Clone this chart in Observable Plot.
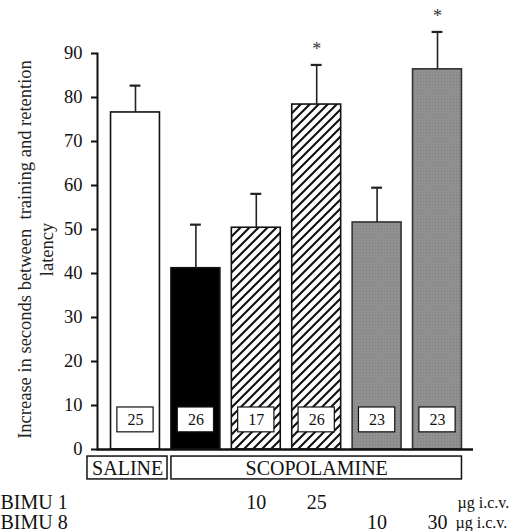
<!DOCTYPE html>
<html><head><meta charset="utf-8">
<script src="https://cdn.jsdelivr.net/npm/d3@7"></script>
<script src="https://cdn.jsdelivr.net/npm/@observablehq/plot@0.6"></script>
<style>body{margin:0;background:#fff} svg{display:block;overflow:visible}</style>
</head><body><div id="chart"></div>
<script>
// ---- data ----
const groups = ["Saline", "Scopolamine", "Scop + BIMU 1 10", "Scop + BIMU 1 25", "Scop + BIMU 8 10", "Scop + BIMU 8 30"];
const means = [76.6, 41.2, 50.4, 78.4, 51.6, 86.4];
const errors = [6.1, 9.9, 7.7, 9.0, 7.9, 8.5];
const nAnimals = [25, 26, 17, 26, 23, 23];
const significant = [false, false, false, true, false, true];
const kinds = ["saline", "scop", "bimu1", "bimu1", "bimu8", "bimu8"];
const bimu1Doses = ["", "", "10", "25", "", ""];
const bimu8Doses = ["", "", "", "", "10", "30"];
const yTicks = [0, 10, 20, 30, 40, 50, 60, 70, 80, 90];
const treatments = ["SALINE", "SCOPOLAMINE"];
const treatmentSpan = [[0, 0], [1, 5]];
const rowLabels = ["BIMU 1", "BIMU 8"];
const unitLabel = "µg i.c.v.";
const yTitle = "Increase in seconds between  training and retention\nlatency";

// ---- styling ----
const fillFor = {saline: "white", scop: "black", bimu1: "url(#hatch)", bimu8: "url(#stipple)"};
const strokeFor = {saline: "#111", scop: "#111", bimu1: "#111", bimu8: "#333"};
const font = "'Liberation Serif', 'Times New Roman', serif";
const half = 0.405; // half bar width in x units
const capHalf = 0.09;

const data = groups.map((g, i) => ({
  g, i, mean: means[i], top: means[i] + errors[i], n: nAnimals[i],
  sig: significant[i], kind: kinds[i], b1: bimu1Doses[i], b8: bimu8Doses[i]
}));
const spans = treatments.map((t, j) => ({
  t, a: treatmentSpan[j][0], b: treatmentSpan[j][1], j
}));
const rows = rowLabels.map((r, k) => ({r, k}));
const T = {fontFamily: font, fill: "#111"};

const plot = Plot.plot({
  width: 519,
  height: 531,
  marginLeft: 97,
  marginRight: 46,
  marginTop: 53,
  marginBottom: 82,
  style: {fontFamily: font, background: "white", color: "#111"},
  x: {type: "linear", domain: [-0.629, 5.596], axis: null},
  y: {domain: [0, 90], axis: null},
  color: {type: "identity"},
  marks: [
    // bars
    Plot.rect(data, {
      x1: d => d.i - half, x2: d => d.i + half, y1: 0, y2: "mean",
      fill: d => fillFor[d.kind], stroke: d => strokeFor[d.kind], strokeWidth: 1.6
    }),
    // error bars (upper only)
    Plot.ruleX(data, {x: "i", y1: "mean", y2: "top", stroke: "#222", strokeWidth: 1.6}),
    Plot.ruleY(data, {x1: d => d.i - capHalf, x2: d => d.i + capHalf, y: "top", stroke: "#222", strokeWidth: 2.2}),
    // significance stars
    Plot.text(data.filter(d => d.sig), {
      ...T, x: "i", y: "top", text: () => "*", dy: -16, fontSize: 18, fill: "#333"
    }),
    // n boxes
    Plot.rect(data, {
      x1: d => d.i - 0.3, x2: d => d.i + 0.3, y1: 3.9, y2: 9.55,
      fill: "white", stroke: "#111", strokeWidth: 1.2
    }),
    Plot.text(data, {...T, x: "i", y: 6.7, text: d => String(d.n), fontSize: 16}),
    // axes
    Plot.ruleY([0], {stroke: "#111", strokeWidth: 2.5}),
    Plot.frame({anchor: "left", stroke: "#111", strokeWidth: 2}),
    Plot.axisY({ticks: yTicks, tickSize: 6, tickPadding: 9, fontSize: 18.5, fontFamily: font, strokeWidth: 2, tickFormat: d => String(d)}),
    Plot.text([yTitle], {
      ...T, frameAnchor: "left", text: d => d, rotate: -90, textAnchor: "middle", dx: -62.5, dy: -2,
      fontSize: 18.5, lineHeight: 1.2, fill: "#222"
    }),
    // treatment boxes
    Plot.rect(spans, {
      x1: d => d.j === 0 ? -0.795 : d.a - half, x2: d => d.j === 0 ? 0.53 : d.b + half,
      y1: -1.6, y2: -6.8, fill: "white", stroke: "#111", strokeWidth: 1.5
    }),
    Plot.text(spans, {
      ...T, x: d => d.j === 0 ? -0.13 : 3, y: -4.3, text: "t", fontSize: 20
    }),
    // dose rows
    Plot.text(data.filter(d => d.b1), {...T, x: "i", frameAnchor: "bottom", text: "b1", lineAnchor: "bottom", dy: 59, fontSize: 20}),
    Plot.text(data.filter(d => d.b8), {...T, x: "i", frameAnchor: "bottom", text: "b8", lineAnchor: "bottom", dy: 79, fontSize: 20}),
    Plot.text(rows.filter(d => d.k === 0), {...T, frameAnchor: "bottom-left", text: "r", textAnchor: "start", lineAnchor: "bottom", dx: -97, dy: 59, fontSize: 20}),
    Plot.text(rows.filter(d => d.k === 1), {...T, frameAnchor: "bottom-left", text: "r", textAnchor: "start", lineAnchor: "bottom", dx: -97, dy: 79, fontSize: 20}),
    Plot.text([unitLabel], {...T, frameAnchor: "bottom-right", text: d => d, textAnchor: "start", lineAnchor: "bottom", dx: -16, dy: 58, fontSize: 16}),
    Plot.text([unitLabel], {...T, frameAnchor: "bottom-right", text: d => d, textAnchor: "start", lineAnchor: "bottom", dx: -18, dy: 78, fontSize: 16})
  ]
});

// pattern definitions for hatched and stippled bars
const defs = d3.select(plot).insert("defs", ":first-child");
const hatch = defs.append("pattern").attr("id", "hatch").attr("patternUnits", "userSpaceOnUse")
  .attr("width", 9).attr("height", 9);
hatch.append("rect").attr("width", 9).attr("height", 9).attr("fill", "white");
hatch.append("path").attr("d", "M-1,1 l2,-2 M0,9 l9,-9 M8,10 l2,-2")
  .attr("stroke", "#111").attr("stroke-width", 2.1);
const stip = defs.append("pattern").attr("id", "stipple").attr("patternUnits", "userSpaceOnUse")
  .attr("width", 3).attr("height", 3);
stip.append("rect").attr("width", 3).attr("height", 3).attr("fill", "#939393");
stip.append("rect").attr("width", 1).attr("height", 1).attr("fill", "#7a7a7a");
stip.append("rect").attr("x", 1.5).attr("y", 1.5).attr("width", 1).attr("height", 1).attr("fill", "#858585");

document.getElementById("chart").appendChild(plot);
</script>
</body></html>
